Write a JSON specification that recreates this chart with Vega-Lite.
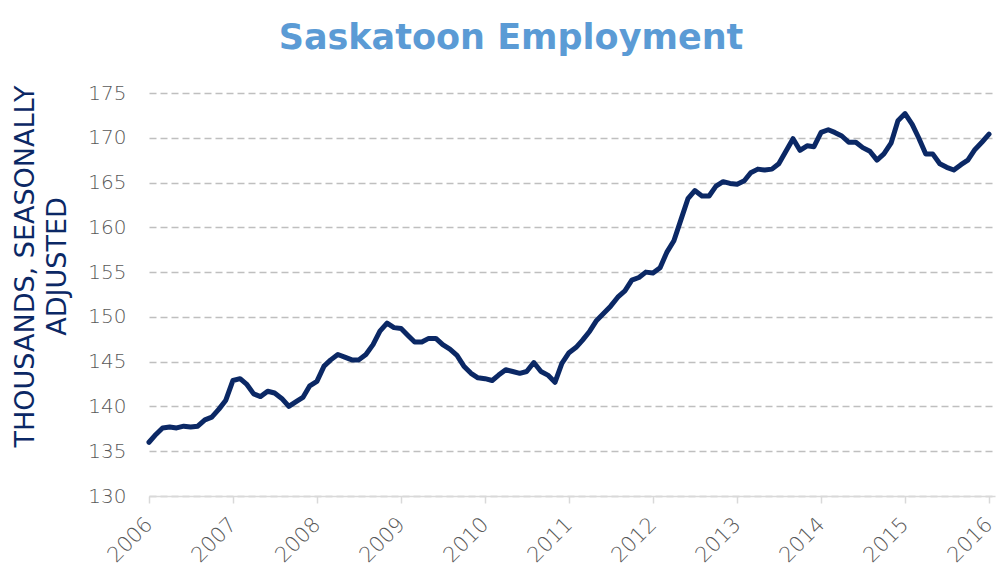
{
  "$schema": "https://vega.github.io/schema/vega-lite/v6.json",
  "width": 846,
  "height": 403,
  "autosize": {"type": "none"},
  "padding": {"left": 149, "top": 93, "right": 1, "bottom": 76},
  "background": "white",
  "title": {
    "text": "Saskatoon Employment",
    "color": "#5b9bd5",
    "font": "DejaVu Sans",
    "fontSize": 35,
    "fontWeight": "bold",
    "anchor": "middle",
    "dx": -61,
    "dy": 4,
    "offset": 31
  },
  "config": {
    "view": {"stroke": null},
    "axis": {"labelFont": "DejaVu Sans", "titleFont": "DejaVu Sans"}
  },
  "data": {
    "values": [
      {"date": "2006-01-01", "v": 136.0}, {"date": "2006-02-01", "v": 136.9}, {"date": "2006-03-01", "v": 137.6}, {"date": "2006-04-01", "v": 137.7},
      {"date": "2006-05-01", "v": 137.6}, {"date": "2006-06-01", "v": 137.8}, {"date": "2006-07-01", "v": 137.7}, {"date": "2006-08-01", "v": 137.8},
      {"date": "2006-09-01", "v": 138.5}, {"date": "2006-10-01", "v": 138.8}, {"date": "2006-11-01", "v": 139.7}, {"date": "2006-12-01", "v": 140.7},
      {"date": "2007-01-01", "v": 142.9}, {"date": "2007-02-01", "v": 143.1}, {"date": "2007-03-01", "v": 142.5}, {"date": "2007-04-01", "v": 141.4},
      {"date": "2007-05-01", "v": 141.1}, {"date": "2007-06-01", "v": 141.7}, {"date": "2007-07-01", "v": 141.5}, {"date": "2007-08-01", "v": 140.9},
      {"date": "2007-09-01", "v": 140.0}, {"date": "2007-10-01", "v": 140.5}, {"date": "2007-11-01", "v": 141.0}, {"date": "2007-12-01", "v": 142.3},
      {"date": "2008-01-01", "v": 142.8}, {"date": "2008-02-01", "v": 144.5}, {"date": "2008-03-01", "v": 145.2}, {"date": "2008-04-01", "v": 145.8},
      {"date": "2008-05-01", "v": 145.5}, {"date": "2008-06-01", "v": 145.2}, {"date": "2008-07-01", "v": 145.2}, {"date": "2008-08-01", "v": 145.8},
      {"date": "2008-09-01", "v": 146.9}, {"date": "2008-10-01", "v": 148.4}, {"date": "2008-11-01", "v": 149.3}, {"date": "2008-12-01", "v": 148.8},
      {"date": "2009-01-01", "v": 148.7}, {"date": "2009-02-01", "v": 147.9}, {"date": "2009-03-01", "v": 147.2}, {"date": "2009-04-01", "v": 147.2},
      {"date": "2009-05-01", "v": 147.6}, {"date": "2009-06-01", "v": 147.6}, {"date": "2009-07-01", "v": 146.9}, {"date": "2009-08-01", "v": 146.4},
      {"date": "2009-09-01", "v": 145.7}, {"date": "2009-10-01", "v": 144.5}, {"date": "2009-11-01", "v": 143.7}, {"date": "2009-12-01", "v": 143.2},
      {"date": "2010-01-01", "v": 143.1}, {"date": "2010-02-01", "v": 142.9}, {"date": "2010-03-01", "v": 143.5}, {"date": "2010-04-01", "v": 144.1},
      {"date": "2010-05-01", "v": 143.9}, {"date": "2010-06-01", "v": 143.7}, {"date": "2010-07-01", "v": 143.9}, {"date": "2010-08-01", "v": 144.9},
      {"date": "2010-09-01", "v": 143.9}, {"date": "2010-10-01", "v": 143.5}, {"date": "2010-11-01", "v": 142.7}, {"date": "2010-12-01", "v": 144.8},
      {"date": "2011-01-01", "v": 146.0}, {"date": "2011-02-01", "v": 146.6}, {"date": "2011-03-01", "v": 147.4}, {"date": "2011-04-01", "v": 148.4},
      {"date": "2011-05-01", "v": 149.6}, {"date": "2011-06-01", "v": 150.4}, {"date": "2011-07-01", "v": 151.2}, {"date": "2011-08-01", "v": 152.2},
      {"date": "2011-09-01", "v": 152.9}, {"date": "2011-10-01", "v": 154.1}, {"date": "2011-11-01", "v": 154.4}, {"date": "2011-12-01", "v": 155.0},
      {"date": "2012-01-01", "v": 154.9}, {"date": "2012-02-01", "v": 155.5}, {"date": "2012-03-01", "v": 157.2}, {"date": "2012-04-01", "v": 158.5},
      {"date": "2012-05-01", "v": 160.8}, {"date": "2012-06-01", "v": 163.2}, {"date": "2012-07-01", "v": 164.1}, {"date": "2012-08-01", "v": 163.5},
      {"date": "2012-09-01", "v": 163.5}, {"date": "2012-10-01", "v": 164.6}, {"date": "2012-11-01", "v": 165.1}, {"date": "2012-12-01", "v": 164.9},
      {"date": "2013-01-01", "v": 164.8}, {"date": "2013-02-01", "v": 165.2}, {"date": "2013-03-01", "v": 166.1}, {"date": "2013-04-01", "v": 166.5},
      {"date": "2013-05-01", "v": 166.4}, {"date": "2013-06-01", "v": 166.5}, {"date": "2013-07-01", "v": 167.1}, {"date": "2013-08-01", "v": 168.5},
      {"date": "2013-09-01", "v": 169.9}, {"date": "2013-10-01", "v": 168.6}, {"date": "2013-11-01", "v": 169.1}, {"date": "2013-12-01", "v": 169.0},
      {"date": "2014-01-01", "v": 170.6}, {"date": "2014-02-01", "v": 170.9}, {"date": "2014-03-01", "v": 170.6}, {"date": "2014-04-01", "v": 170.2},
      {"date": "2014-05-01", "v": 169.5}, {"date": "2014-06-01", "v": 169.5}, {"date": "2014-07-01", "v": 168.9}, {"date": "2014-08-01", "v": 168.5},
      {"date": "2014-09-01", "v": 167.5}, {"date": "2014-10-01", "v": 168.2}, {"date": "2014-11-01", "v": 169.4}, {"date": "2014-12-01", "v": 171.9},
      {"date": "2015-01-01", "v": 172.7}, {"date": "2015-02-01", "v": 171.5}, {"date": "2015-03-01", "v": 170.0}, {"date": "2015-04-01", "v": 168.2},
      {"date": "2015-05-01", "v": 168.2}, {"date": "2015-06-01", "v": 167.1}, {"date": "2015-07-01", "v": 166.7}, {"date": "2015-08-01", "v": 166.4},
      {"date": "2015-09-01", "v": 167.0}, {"date": "2015-10-01", "v": 167.5}, {"date": "2015-11-01", "v": 168.7}, {"date": "2015-12-01", "v": 169.5},
      {"date": "2016-01-01", "v": 170.4}
    ]
  },
  "mark": {"type": "line", "color": "#0b2865", "strokeWidth": 5, "strokeJoin": "round", "strokeCap": "round", "clip": false},
  "encoding": {
    "x": {
      "field": "date",
      "type": "temporal",
      "scale": {"domain": ["2006-01-01", "2016-01-27"]},
      "axis": {
        "title": null,
        "format": "%Y",
        "tickCount": {"interval": "year", "step": 1},
        "labelAngle": -45,
        "labelAlign": "right",
        "labelBaseline": "middle",
        "labelFontSize": 21,
        "labelFontWeight": 200,
        "labelColor": "#595959",
        "labelPadding": 18,
        "labelFlush": false,
        "labelOverlap": false,
        "labelBound": false,
        "grid": false,
        "domainColor": "#d9d9d9",
        "domainWidth": 1.5,
        "tickColor": "#d9d9d9",
        "tickWidth": 1.5,
        "tickSize": 7
      }
    },
    "y": {
      "field": "v",
      "type": "quantitative",
      "scale": {"domain": [130, 175], "nice": false, "zero": false},
      "axis": {
        "title": ["THOUSANDS, SEASONALLY", "ADJUSTED"],
        "titleColor": "#0b2865",
        "titleFontSize": 27,
        "titleFontWeight": "normal",
        "titleLineHeight": 32,
        "titleX": -124,
        "titleY": 173,
        "titleAlign": "center",
        "titleBaseline": "middle",
        "titleAngle": -90,
        "values": [130, 135, 140, 145, 150, 155, 160, 165, 170, 175],
        "labelFontSize": 20,
        "labelFontWeight": 200,
        "labelColor": "#595959",
        "labelPadding": 23,
        "domain": false,
        "ticks": false,
        "grid": true,
        "gridColor": "#bfbfbf",
        "gridWidth": 1.5,
        "gridDash": [7, 4]
      }
    }
  }
}
